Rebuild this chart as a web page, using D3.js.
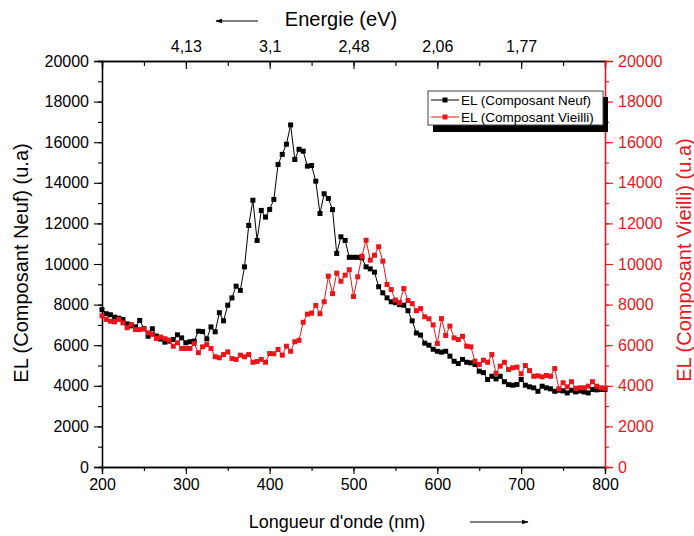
<!DOCTYPE html>
<html>
<head>
<meta charset="utf-8">
<script src="https://cdn.jsdelivr.net/npm/d3@7"></script>
<style>
html,body{margin:0;padding:0;background:#fff;}
svg{display:block;font-family:"Liberation Sans",Arial,sans-serif;}
</style>
</head>
<body>
<svg id="chart" width="694" height="536"></svg>
<script>
// ---- data ----
const wavelength = [200,205,210,215,220,225,230,235,240,245,250,255,260,265,270,275,280,285,290,295,
300,305,310,315,320,325,330,335,340,345,350,355,360,365,370,375,380,385,390,395,
400,405,410,415,420,425,430,435,440,445,450,455,460,465,470,475,480,485,490,495,
500,505,510,515,520,525,530,535,540,545,550,555,560,565,570,575,580,585,590,595,
600,605,610,615,620,625,630,635,640,645,650,655,660,665,670,675,680,685,690,695,
700,705,710,715,720,725,730,735,740,745,750,755,760,765,770,775,780,785,790,795,800];

const elNeuf = [7750,7550,7500,7380,7330,7270,7050,6950,6900,7220,6820,6440,6810,6450,6300,6150,6200,6280,6510,6360,
6120,6170,6200,6690,6670,6310,6900,6660,7600,7200,7970,8330,8910,8700,9860,11900,13140,11160,12640,12310,
12690,13180,14900,15400,15900,16850,15150,15650,15560,14820,14850,14080,12490,13460,13230,12680,10520,11340,11160,10330,
10330,10330,10300,9860,9760,9600,8880,8580,8330,8140,8090,8000,7970,7700,7200,6600,6500,6100,6000,5800,
5700,5660,5700,5460,5210,5100,5300,5160,5130,5050,4720,4650,4310,4470,4340,4470,4200,4060,4030,4060,
4310,4030,3950,3900,3730,3980,3900,3850,3730,3780,3750,3650,3780,3700,3750,3700,3650,3820,3800,3820,3820];

const elVieilli = [7450,7270,7180,7150,7270,7100,6860,7020,6770,6770,6800,6610,6530,6330,6400,6320,6250,5950,6120,5840,
5840,5840,6080,5630,5920,6030,5840,5430,5380,5540,5670,5340,5300,5510,5430,5540,5160,5200,5300,5160,
5590,5580,5790,5510,5950,5700,6170,6240,7130,7530,7580,7960,7550,8140,9400,8540,9550,9150,9450,9720,
8400,9370,10380,11170,10190,10430,10850,10140,8990,8740,8220,8100,8790,8200,8050,7700,7800,7400,7300,7000,
6080,7310,6480,6940,6360,6280,6440,5950,5920,5210,5050,5260,5160,5540,4610,4970,5160,4800,4890,4920,
4590,5000,4750,4470,4490,4440,4510,4470,4850,3850,4150,3950,4200,3870,3900,3900,3980,4200,3980,3900,3880];

const xTicks = [200,300,400,500,600,700,800];
const yTicks = [0,2000,4000,6000,8000,10000,12000,14000,16000,18000,20000];
const energyPositions = [300,400,500,600,700];
const energyLabels = ["4,13","3,1","2,48","2,06","1,77"];
const seriesNames = ["EL (Composant Neuf)","EL (Composant Vieilli)"];

// ---- layout ----
const RED = "#e8161b";
const svg = d3.select("#chart");
const L = 102, R = 605, T = 61, B = 467;
const x = d3.scaleLinear().domain([200,800]).range([L,R]);
const yL = d3.scaleLinear().domain([0,20000]).range([B,T]);
const yR = d3.scaleLinear().domain([0,20000]).range([B,T]);

const minorX = d3.range(200,801,50);
const minorY = d3.range(0,20001,1000);

function styleAxis(g, color, fs){
  g.selectAll(".domain").attr("stroke", color).attr("stroke-width",1.3);
  g.selectAll(".tick line").attr("stroke", color).attr("stroke-width",1.1);
  g.selectAll(".tick text").attr("fill", color).style("font-size", fs+"px").style("font-family",'"Liberation Sans",Arial,sans-serif');
}

// bottom axis
const gxm = svg.append("g").attr("transform",`translate(0,${B})`)
  .call(d3.axisBottom(x).tickValues(minorX).tickSize(4).tickFormat(""));
styleAxis(gxm,"#000",16);
const gx = svg.append("g").attr("transform",`translate(0,${B})`)
  .call(d3.axisBottom(x).tickValues(xTicks).tickSize(7).tickPadding(5).tickFormat(d3.format("d")));
styleAxis(gx,"#000",16);

// top axis (energy), ticks inward
const gtm = svg.append("g").attr("transform",`translate(0,${T})`)
  .call(d3.axisBottom(x).tickValues(minorX).tickSize(5).tickFormat(""));
styleAxis(gtm,"#000",16);
const gt = svg.append("g").attr("transform",`translate(0,${T})`)
  .call(d3.axisTop(x).tickValues(energyPositions).tickSize(0).tickPadding(9)
    .tickFormat((d,i)=>energyLabels[i]));
styleAxis(gt,"#000",16);
gt.select(".domain").remove();
svg.append("g").attr("transform",`translate(0,${T})`)
  .call(d3.axisBottom(x).tickValues(energyPositions).tickSize(8).tickFormat(""))
  .call(g=>styleAxis(g,"#000",16));

// left axis
const gym = svg.append("g").attr("transform",`translate(${L},0)`)
  .call(d3.axisLeft(yL).tickValues(minorY).tickSize(4).tickFormat(""));
styleAxis(gym,"#000",16);
const gy = svg.append("g").attr("transform",`translate(${L},0)`)
  .call(d3.axisLeft(yL).tickValues(yTicks).tickSize(8).tickPadding(5).tickFormat(d3.format("d")));
styleAxis(gy,"#000",16);

// right axis
const grm = svg.append("g").attr("transform",`translate(${R},0)`)
  .call(d3.axisRight(yR).tickValues(minorY).tickSize(4).tickFormat(""));
styleAxis(grm,RED,16);
const gr = svg.append("g").attr("transform",`translate(${R},0)`)
  .call(d3.axisRight(yR).tickValues(yTicks).tickSize(8).tickPadding(5).tickFormat(d3.format("d")));
styleAxis(gr,RED,16);

// series
function drawSeries(vals, scaleY, color){
  const data = wavelength.map((w,i)=>[w, vals[i]]);
  const line = d3.line().x(d=>x(d[0])).y(d=>scaleY(d[1]));
  svg.append("path").datum(data).attr("d",line).attr("fill","none")
    .attr("stroke",color).attr("stroke-width",1);
  svg.append("g").selectAll("rect").data(data).join("rect")
    .attr("x",d=>x(d[0])-2.5).attr("y",d=>scaleY(d[1])-2.5)
    .attr("width",5).attr("height",5).attr("fill",color);
}
drawSeries(elNeuf, yL, "#000");
drawSeries(elVieilli, yR, RED);

// titles
svg.append("text").attr("transform","translate(28,263) rotate(-90)")
  .attr("text-anchor","middle").style("font-size","20px").attr("fill","#000")
  .text("EL (Composant Neuf) (u.a)");
svg.append("text").attr("transform","translate(691,260) rotate(-90)")
  .attr("text-anchor","middle").style("font-size","20px").attr("fill",RED)
  .text("EL (Composant Vieilli) (u.a)");
svg.append("text").attr("x",337).attr("y",528).attr("text-anchor","middle")
  .style("font-size","18px").attr("fill","#000").text("Longueur d'onde (nm)");
svg.append("text").attr("x",341).attr("y",26).attr("text-anchor","middle")
  .style("font-size","20px").attr("fill","#000").text("Energie (eV)");

// arrows
svg.append("defs").append("marker").attr("id","ah").attr("viewBox","0 0 10 10")
  .attr("refX",9).attr("refY",5).attr("markerWidth",7).attr("markerHeight",7)
  .attr("orient","auto-start-reverse")
  .append("path").attr("d","M0,1.5 L10,5 L0,8.5 Z").attr("fill","#000");
svg.append("line").attr("x1",258).attr("y1",21).attr("x2",216).attr("y2",21)
  .attr("stroke","#000").attr("stroke-width",1).attr("marker-end","url(#ah)");
svg.append("line").attr("x1",470).attr("y1",522).attr("x2",528).attr("y2",522)
  .attr("stroke","#000").attr("stroke-width",1).attr("marker-end","url(#ah)");

// legend
const lg = svg.append("g");
lg.append("rect").attr("x",433).attr("y",97).attr("width",175).attr("height",35).attr("fill","#000");
lg.append("rect").attr("x",428).attr("y",91).attr("width",175).attr("height",34)
  .attr("fill","#fff").attr("stroke","#444").attr("stroke-width",1);
const colors = ["#000", RED];
seriesNames.forEach((n,i)=>{
  const cy = 100 + i*17;
  lg.append("line").attr("x1",431).attr("x2",459).attr("y1",cy).attr("y2",cy)
    .attr("stroke",colors[i]).attr("stroke-width",1);
  lg.append("rect").attr("x",442.5).attr("y",cy-2.5).attr("width",5).attr("height",5).attr("fill",colors[i]);
  lg.append("text").attr("x",461).attr("y",cy+4.5).style("font-size","13.5px").attr("fill","#000").text(n);
});
</script>
</body>
</html>
